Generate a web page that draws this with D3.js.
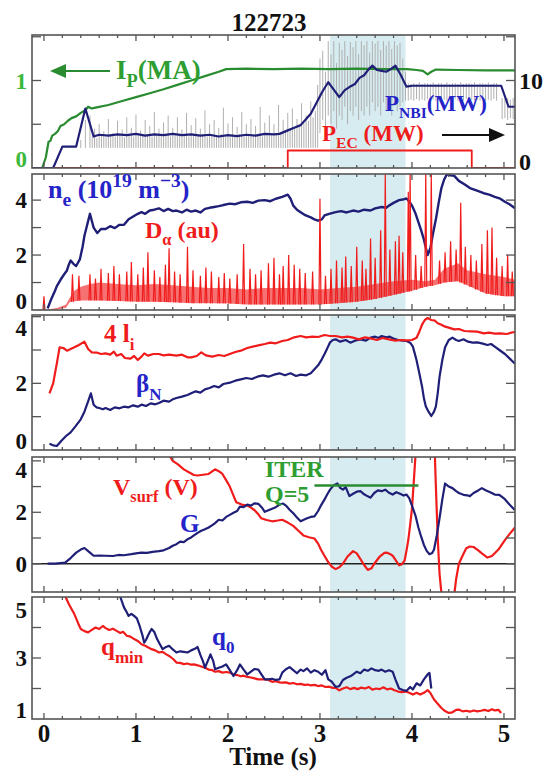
<!DOCTYPE html>
<html>
<head>
<meta charset="utf-8">
<script src="https://cdn.jsdelivr.net/npm/d3@7"></script>
<style>
  body { margin: 0; background: #fff; }
  svg { display: block; }
  text { font-family: "Liberation Serif", "Times New Roman", serif; font-weight: bold; }
</style>
</head>
<body>
<div id="chart"></div>
<script>
const W = 555, H = 773;

// ---- data ----
const shot = "122723";
const highlight = [3.11, 3.93];
const timeTicks = [0, 1, 2, 3, 4, 5];

// panel 1: plasma current (MA) and heating power (MW)
const ipData = [[-0.13,0],[-0.02,0],[0.02,0.12],[0.05,0.3],[0.07,0.31],[0.09,0.37],[0.12,0.39],[0.15,0.42],[0.18,0.48],[0.22,0.5],[0.26,0.54],[0.3,0.57],[0.35,0.59],[0.4,0.63],[0.45,0.66],[0.48,0.7],[0.52,0.68],[0.56,0.69],[0.7,0.72],[0.85,0.765],[1.0,0.81],[1.15,0.855],[1.3,0.9],[1.45,0.95],[1.6,1.0],[1.75,1.05],[1.9,1.1],[1.98,1.13],[2.2,1.135],[2.5,1.13],[2.8,1.135],[3.1,1.13],[3.4,1.135],[3.7,1.13],[3.95,1.13],[4.05,1.12],[4.12,1.11],[4.17,1.07],[4.21,1.1],[4.26,1.125],[4.5,1.12],[4.8,1.115],[5.12,1.115]];
const pnbiData = [[-0.13,0],[0.1,0],[0.2,2.45],[0.35,2.45],[0.45,6.8],[0.54,3.6],[0.6,3.8],[0.7,3.7],[0.8,3.85],[0.9,3.75],[1.0,3.9],[1.1,3.7],[1.2,3.85],[1.3,3.75],[1.4,3.9],[1.5,3.75],[1.6,3.85],[1.7,3.7],[1.8,3.8],[1.9,3.6],[2.0,3.75],[2.1,3.65],[2.2,3.8],[2.3,3.7],[2.4,3.9],[2.5,3.85],[2.56,3.9],[2.65,4.3],[2.72,4.6],[2.79,4.9],[2.85,5.6],[2.9,6.2],[2.97,7.6],[3.03,8.8],[3.09,9.8],[3.14,9.1],[3.21,8.1],[3.27,8.9],[3.32,9.25],[3.38,9.6],[3.43,10.3],[3.48,10.6],[3.53,11.3],[3.57,11.7],[3.62,11.2],[3.67,11.1],[3.72,11.0],[3.77,11.3],[3.82,11.7],[3.87,10.8],[3.94,9.3],[4.0,9.4],[4.5,9.4],[4.97,9.4],[5.05,7.0],[5.12,7.0]];
const pecData = [[-0.13,0],[2.65,0],[2.65,2.0],[4.65,2.0],[4.65,0],[5.12,0]];
// raw modulated beam power: [t, low, high] (MW)
const nbiGray = [[0.40,2.3,3.2],[0.45,2.3,5.5],[0.50,2.3,6.0],[0.525,2.3,3.6],[0.55,2.3,4.5],[0.575,2.3,3.4],[0.60,2.3,5.0],[0.625,2.3,3.8],[0.65,2.3,4.2],[0.675,2.3,3.5],[0.70,2.3,5.6],[0.725,2.3,3.9],[0.75,2.3,4.0],[0.775,2.3,3.6],[0.80,2.3,5.4],[0.825,2.3,3.7],[0.85,2.3,4.4],[0.875,2.3,3.5],[0.90,2.3,5.8],[0.925,2.3,3.9],[0.95,2.3,4.6],[0.975,2.3,3.6],[1.00,2.3,6.1],[1.025,2.3,3.8],[1.05,2.3,4.3],[1.075,2.3,3.7],[1.10,2.3,5.5],[1.125,2.3,3.9],[1.15,2.3,4.8],[1.175,2.3,3.6],[1.20,2.3,6.4],[1.225,2.3,3.8],[1.25,2.3,4.5],[1.275,2.3,3.7],[1.30,2.3,5.2],[1.325,2.3,3.9],[1.35,2.3,6.0],[1.375,2.3,3.6],[1.40,2.3,4.6],[1.425,2.3,3.8],[1.45,2.3,5.8],[1.475,2.3,3.7],[1.50,2.3,4.4],[1.525,2.3,3.9],[1.55,2.3,6.3],[1.575,2.3,3.6],[1.60,2.3,4.9],[1.625,2.3,3.8],[1.65,2.3,5.7],[1.675,2.3,3.7],[1.70,2.3,4.5],[1.725,2.3,3.9],[1.75,2.3,6.6],[1.775,2.3,3.6],[1.80,2.3,5.0],[1.825,2.3,3.8],[1.85,2.3,5.5],[1.875,2.3,3.7],[1.90,2.3,4.6],[1.925,2.3,3.9],[1.95,2.3,6.9],[1.975,2.3,3.6],[2.00,2.3,5.1],[2.025,2.3,3.8],[2.05,2.3,5.8],[2.075,2.3,3.7],[2.10,2.3,4.7],[2.125,2.3,3.9],[2.15,2.3,6.4],[2.175,2.3,3.6],[2.20,2.3,5.0],[2.225,2.3,3.8],[2.25,2.3,5.6],[2.275,2.3,3.7],[2.30,2.3,4.8],[2.325,2.3,3.9],[2.35,2.3,7.0],[2.375,2.3,3.6],[2.40,2.3,5.2],[2.425,2.3,3.8],[2.45,2.3,6.0],[2.475,2.3,3.9],[2.50,2.3,5.0],[2.525,2.3,4.0],[2.55,2.3,7.2],[2.575,2.3,4.1],[2.60,2.3,5.5],[2.625,2.3,4.3],[2.65,2.3,6.3],[2.675,2.3,4.4],[2.70,2.3,6.8],[2.725,2.3,4.6],[2.75,2.3,5.6],[2.775,2.3,4.9],[2.80,2.3,7.4],[2.825,2.3,5.2],[2.85,2.3,6.0],[2.875,2.3,5.4],[2.90,2.3,7.6],[2.925,2.3,5.8],[2.95,2.3,6.5],[2.975,2.3,9.5],
  [3.00,4.0,12.5],[3.03,5.5,13.4],[3.06,3.5,11.0],[3.09,6.0,14.5],[3.12,5.0,13.0],[3.15,6.5,14.5],[3.18,4.5,12.0],[3.21,6.0,14.3],[3.24,5.5,13.5],[3.27,7.0,14.5],[3.30,5.0,12.8],[3.33,6.5,14.4],[3.36,6.0,13.8],[3.39,7.0,14.5],[3.42,5.5,13.0],[3.45,6.5,14.5],[3.48,6.0,14.0],[3.51,7.0,14.5],[3.54,6.0,13.2],[3.57,7.5,14.5],[3.60,6.5,14.2],[3.63,7.0,14.5],[3.66,6.0,13.5],[3.69,7.5,14.5],[3.72,6.5,14.0],[3.75,7.0,14.5],[3.78,6.0,13.6],[3.81,7.5,14.5],[3.84,6.5,14.0],[3.87,7.0,14.3],[3.90,7.5,12.5],[3.93,7.7,11.0],
  [3.96,7.7,9.7],[3.99,7.8,9.6],[4.02,7.7,9.7],[4.05,7.9,9.6],[4.08,7.7,9.8],[4.11,7.8,9.6],[4.14,7.7,9.7],[4.17,7.9,9.7],[4.20,7.7,9.6],[4.23,7.8,9.8],[4.26,7.7,9.6],[4.29,7.9,9.7],[4.32,7.7,9.7],[4.35,7.8,9.6],[4.38,7.7,9.8],[4.41,7.8,9.6],[4.44,7.7,9.7],[4.47,7.9,9.7],[4.50,7.7,9.6],[4.53,7.8,9.8],[4.56,7.7,9.6],[4.59,7.9,9.7],[4.62,7.7,9.7],[4.65,7.8,9.6],[4.68,7.7,9.8],[4.71,7.8,9.6],[4.74,7.7,9.7],[4.77,7.9,9.7],[4.80,7.7,9.6],[4.83,7.8,9.8],[4.86,7.7,9.6],[4.89,7.9,9.7],[4.92,7.7,9.7],
  [4.98,5.6,8.0],[5.01,5.7,7.9],[5.04,5.5,8.0],[5.07,5.7,7.8],[5.10,5.6,8.0]];

// panel 2: density (1e19 m^-3) and D-alpha (au)
const neData = [[0.04,0.06],[0.08,0.4],[0.12,0.7],[0.14,0.87],[0.18,1.1],[0.22,1.3],[0.25,1.44],[0.27,1.65],[0.29,1.8],[0.32,1.68],[0.35,1.6],[0.37,1.72],[0.39,1.84],[0.42,2.3],[0.44,2.7],[0.47,3.1],[0.5,3.5],[0.52,3.25],[0.54,3.0],[0.56,2.9],[0.58,2.8],[0.62,2.95],[0.67,2.95],[0.72,3.05],[0.77,2.98],[0.82,3.1],[0.87,3.1],[0.92,3.3],[0.97,3.4],[1.02,3.5],[1.06,3.56],[1.1,3.5],[1.15,3.62],[1.2,3.65],[1.25,3.7],[1.3,3.6],[1.35,3.68],[1.4,3.6],[1.44,3.62],[1.5,3.55],[1.55,3.65],[1.6,3.58],[1.65,3.62],[1.7,3.55],[1.75,3.68],[1.8,3.72],[1.85,3.75],[1.9,3.78],[1.95,3.82],[2.02,3.87],[2.08,3.85],[2.14,3.92],[2.21,3.94],[2.27,3.9],[2.33,3.98],[2.4,4.0],[2.46,3.96],[2.52,4.05],[2.59,4.12],[2.65,4.2],[2.68,4.05],[2.71,3.8],[2.75,3.65],[2.79,3.56],[2.84,3.45],[2.9,3.37],[2.94,3.3],[2.98,3.25],[3.02,3.3],[3.05,3.44],[3.1,3.5],[3.17,3.56],[3.23,3.6],[3.29,3.55],[3.36,3.62],[3.42,3.58],[3.48,3.65],[3.55,3.62],[3.6,3.7],[3.67,3.75],[3.72,3.72],[3.75,3.8],[3.8,3.9],[3.86,4.0],[3.9,4.02],[3.94,4.06],[3.97,3.95],[4.0,3.8],[4.04,3.5],[4.07,3.2],[4.1,2.9],[4.13,2.56],[4.17,2.0],[4.2,2.25],[4.23,2.8],[4.26,3.3],[4.29,3.9],[4.32,4.44],[4.35,4.75],[4.38,4.94],[4.42,4.9],[4.46,4.88],[4.51,4.7],[4.57,4.58],[4.63,4.44],[4.7,4.35],[4.78,4.25],[4.84,4.2],[4.9,4.12],[4.96,4.05],[5.01,3.94],[5.06,3.85],[5.12,3.7]];
// D-alpha noise band: [t, low, high]
const dalphaBand = [[-0.13,0,0.01],[0.05,0,0.02],[0.15,0.02,0.08],[0.24,0.08,0.2],[0.28,0.28,0.45],[0.33,0.32,0.7],[0.4,0.35,0.85],[0.5,0.35,0.95],[0.6,0.35,1.0],[0.8,0.33,0.95],[1.0,0.3,0.9],[1.2,0.3,0.95],[1.4,0.28,0.9],[1.6,0.25,0.85],[1.8,0.25,0.8],[2.0,0.24,0.8],[2.2,0.2,0.75],[2.4,0.2,0.8],[2.6,0.2,0.8],[2.8,0.2,0.8],[3.0,0.2,0.75],[3.2,0.25,0.8],[3.4,0.3,0.85],[3.6,0.4,0.95],[3.8,0.55,1.05],[4.0,0.7,1.1],[4.15,0.85,1.05],[4.25,0.9,1.1],[4.35,1.0,1.5],[4.5,1.05,1.7],[4.6,0.9,1.45],[4.8,0.6,1.3],[5.0,0.5,1.2],[5.12,0.5,1.1]];
// D-alpha ELM spikes: [t, peak]
const dalphaSpikes = [[0.0,0.5],[0.31,1.3],[0.38,1.25],[0.5,1.3],[0.56,1.15],[0.62,1.5],[0.7,1.35],[0.76,1.6],[0.82,1.3],[0.9,1.4],[0.95,1.75],[1.02,1.3],[1.08,1.55],[1.13,2.1],[1.2,1.45],[1.26,1.2],[1.32,1.65],[1.36,2.25],[1.42,1.4],[1.48,1.3],[1.56,2.3],[1.62,1.45],[1.7,1.25],[1.76,1.55],[1.82,1.4],[1.9,1.2],[1.96,1.35],[2.02,1.15],[2.1,1.3],[2.17,2.4],[2.24,1.5],[2.3,1.3],[2.36,1.45],[2.44,1.7],[2.5,1.9],[2.56,1.3],[2.6,1.6],[2.66,2.0],[2.72,1.65],[2.78,1.5],[2.84,1.35],[2.92,1.4],[3.0,4.05],[3.06,1.25],[3.12,1.5],[3.18,1.8],[3.24,1.55],[3.28,1.95],[3.34,1.6],[3.4,2.3],[3.46,1.8],[3.5,1.5],[3.55,2.6],[3.6,1.9],[3.66,2.9],[3.71,5.0],[3.76,2.2],[3.82,2.5],[3.86,2.7],[3.9,2.1],[3.96,4.3],[3.98,5.0],[4.04,2.0],[4.1,1.6],[4.15,5.0],[4.21,5.0],[4.3,1.8],[4.36,2.1],[4.42,2.5],[4.48,2.2],[4.53,3.9],[4.58,2.3],[4.64,2.0],[4.7,1.8],[4.76,2.4],[4.82,2.9],[4.87,3.0],[4.92,1.9],[4.98,1.6],[5.04,2.0],[5.09,1.4]];

// panel 3: 4*li and beta_N
const liData = [[0.06,1.7],[0.1,2.0],[0.14,2.6],[0.17,3.08],[0.21,3.06],[0.25,2.98],[0.29,3.03],[0.33,3.08],[0.38,3.15],[0.44,3.25],[0.48,3.03],[0.52,2.93],[0.58,2.92],[0.62,2.88],[0.67,2.9],[0.72,2.86],[0.76,2.95],[0.79,2.83],[0.84,2.88],[0.88,2.76],[0.94,2.74],[0.98,2.82],[1.02,2.7],[1.06,2.8],[1.09,2.9],[1.13,2.83],[1.19,2.88],[1.25,2.88],[1.3,2.84],[1.36,2.86],[1.44,2.83],[1.5,2.86],[1.56,2.78],[1.6,2.78],[1.66,2.82],[1.71,2.93],[1.76,2.84],[1.83,2.8],[1.9,2.85],[1.96,2.82],[2.02,2.88],[2.08,2.94],[2.14,2.98],[2.21,3.06],[2.27,3.1],[2.33,3.14],[2.4,3.18],[2.46,3.22],[2.52,3.2],[2.59,3.27],[2.65,3.3],[2.72,3.38],[2.79,3.42],[2.85,3.38],[2.92,3.4],[2.98,3.39],[3.05,3.45],[3.11,3.42],[3.17,3.42],[3.24,3.38],[3.3,3.4],[3.36,3.37],[3.42,3.32],[3.49,3.38],[3.55,3.35],[3.62,3.3],[3.68,3.36],[3.75,3.32],[3.82,3.28],[3.88,3.3],[3.94,3.29],[4.0,3.3],[4.05,3.37],[4.08,3.55],[4.11,3.76],[4.14,3.9],[4.17,3.96],[4.21,3.9],[4.25,3.88],[4.28,3.8],[4.32,3.76],[4.36,3.7],[4.4,3.67],[4.46,3.62],[4.51,3.63],[4.57,3.57],[4.64,3.56],[4.71,3.55],[4.78,3.5],[4.84,3.52],[4.9,3.49],[4.96,3.5],[5.03,3.48],[5.08,3.52],[5.12,3.54]];
const betaData = [[0.06,0.19],[0.1,0.14],[0.14,0.12],[0.19,0.28],[0.24,0.42],[0.29,0.53],[0.34,0.7],[0.4,0.92],[0.44,1.15],[0.48,1.46],[0.51,1.7],[0.54,1.36],[0.57,1.28],[0.6,1.26],[0.64,1.22],[0.67,1.26],[0.72,1.2],[0.77,1.28],[0.82,1.25],[0.87,1.3],[0.92,1.28],[0.97,1.34],[1.02,1.3],[1.06,1.36],[1.11,1.32],[1.16,1.4],[1.21,1.37],[1.25,1.41],[1.3,1.48],[1.36,1.45],[1.4,1.52],[1.44,1.56],[1.5,1.6],[1.56,1.65],[1.6,1.7],[1.65,1.76],[1.7,1.72],[1.75,1.82],[1.8,1.86],[1.85,1.92],[1.9,1.88],[1.95,1.98],[2.02,2.02],[2.08,2.08],[2.14,2.12],[2.2,2.16],[2.26,2.13],[2.32,2.2],[2.38,2.24],[2.44,2.2],[2.5,2.26],[2.56,2.3],[2.62,2.24],[2.68,2.3],[2.74,2.22],[2.79,2.26],[2.85,2.24],[2.9,2.3],[2.95,2.45],[2.98,2.54],[3.02,2.72],[3.05,2.88],[3.08,3.05],[3.11,3.23],[3.14,3.3],[3.17,3.32],[3.22,3.25],[3.28,3.3],[3.33,3.22],[3.38,3.28],[3.44,3.32],[3.5,3.28],[3.55,3.37],[3.6,3.4],[3.64,3.36],[3.67,3.42],[3.72,3.38],[3.76,3.4],[3.8,3.34],[3.85,3.3],[3.9,3.28],[3.94,3.27],[3.98,3.22],[4.01,3.1],[4.03,2.9],[4.05,2.69],[4.08,2.3],[4.11,1.9],[4.13,1.55],[4.15,1.31],[4.18,1.15],[4.21,1.02],[4.24,1.15],[4.26,1.31],[4.28,1.7],[4.3,2.2],[4.33,2.7],[4.36,3.08],[4.4,3.3],[4.44,3.37],[4.48,3.3],[4.51,3.27],[4.56,3.32],[4.61,3.25],[4.66,3.22],[4.71,3.23],[4.76,3.2],[4.82,3.15],[4.86,3.18],[4.9,3.1],[4.95,3.0],[5.01,2.88],[5.06,2.75],[5.12,2.59]];

// panel 4: surface loop voltage (V) and G
const vsurfData = [[1.3,4.6],[1.4,4.0],[1.46,3.85],[1.52,3.67],[1.58,3.55],[1.63,3.45],[1.67,3.43],[1.73,3.46],[1.79,3.49],[1.86,3.67],[1.9,3.6],[1.94,3.49],[1.98,3.25],[2.02,3.0],[2.06,2.65],[2.09,2.39],[2.15,2.3],[2.21,2.26],[2.25,2.18],[2.29,2.08],[2.33,1.92],[2.36,1.77],[2.42,1.7],[2.48,1.65],[2.54,1.68],[2.59,1.71],[2.65,1.6],[2.71,1.47],[2.76,1.3],[2.82,1.1],[2.88,1.03],[2.94,0.98],[2.98,0.78],[3.01,0.55],[3.05,0.3],[3.09,0.06],[3.13,-0.12],[3.17,-0.21],[3.21,-0.14],[3.25,0.0],[3.3,0.28],[3.36,0.49],[3.4,0.4],[3.44,0.18],[3.48,-0.05],[3.52,-0.24],[3.56,-0.18],[3.59,0.0],[3.65,0.28],[3.7,0.42],[3.73,0.43],[3.76,0.38],[3.79,0.31],[3.83,0.1],[3.86,-0.06],[3.89,-0.02],[3.92,0.12],[3.94,0.5],[3.96,0.92],[3.98,1.5],[4.0,2.14],[4.02,3.2],[4.04,4.3],[4.06,5.2],[4.24,5.2],[4.26,3.0],[4.28,1.0],[4.3,-0.4],[4.33,-1.5],[4.45,-1.5],[4.48,-0.6],[4.51,0.0],[4.55,0.31],[4.59,0.6],[4.63,0.67],[4.67,0.65],[4.71,0.55],[4.76,0.4],[4.82,0.24],[4.87,0.3],[4.94,0.55],[5.01,0.92],[5.06,1.15],[5.12,1.41]];
const gData = [[0.04,0.0],[0.12,0.0],[0.18,0.02],[0.23,0.04],[0.29,0.22],[0.35,0.43],[0.4,0.55],[0.44,0.61],[0.49,0.46],[0.54,0.31],[0.6,0.32],[0.67,0.31],[0.75,0.3],[0.81,0.34],[0.87,0.33],[0.95,0.37],[1.0,0.4],[1.06,0.43],[1.12,0.42],[1.18,0.46],[1.25,0.49],[1.3,0.52],[1.36,0.61],[1.4,0.7],[1.44,0.76],[1.48,0.86],[1.52,0.84],[1.56,0.95],[1.6,1.02],[1.63,1.1],[1.67,1.2],[1.71,1.28],[1.75,1.34],[1.79,1.41],[1.83,1.5],[1.86,1.58],[1.9,1.71],[1.94,1.68],[1.98,1.82],[2.02,1.9],[2.06,1.98],[2.1,2.05],[2.13,2.22],[2.17,2.2],[2.21,2.3],[2.25,2.26],[2.29,2.35],[2.33,2.33],[2.37,2.18],[2.4,2.02],[2.44,2.08],[2.48,2.14],[2.52,2.2],[2.56,2.3],[2.6,2.34],[2.63,2.26],[2.67,2.1],[2.71,1.96],[2.75,1.8],[2.79,1.65],[2.83,1.72],[2.86,1.77],[2.9,1.82],[2.94,1.84],[2.98,2.05],[3.01,2.26],[3.05,2.5],[3.08,2.7],[3.11,2.88],[3.15,3.05],[3.19,3.12],[3.22,2.95],[3.25,2.88],[3.28,2.98],[3.32,2.63],[3.36,2.72],[3.4,2.8],[3.44,2.82],[3.48,2.7],[3.52,2.62],[3.55,2.57],[3.59,2.75],[3.63,2.85],[3.67,2.82],[3.71,2.88],[3.75,2.76],[3.79,2.69],[3.83,2.78],[3.87,2.72],[3.91,2.65],[3.94,2.69],[3.97,2.55],[4.0,2.26],[4.04,1.85],[4.07,1.41],[4.1,1.05],[4.13,0.73],[4.16,0.5],[4.19,0.37],[4.22,0.42],[4.24,0.55],[4.27,1.1],[4.3,1.77],[4.33,2.5],[4.36,3.12],[4.4,3.0],[4.44,2.94],[4.48,2.82],[4.51,2.75],[4.56,2.68],[4.6,2.66],[4.63,2.63],[4.67,2.75],[4.72,2.85],[4.76,2.94],[4.8,2.86],[4.85,2.78],[4.9,2.69],[4.95,2.68],[5.01,2.51],[5.06,2.3],[5.12,2.08]];
const iterQ5 = [[2.94,3.04],[4.07,3.04]];

// panel 5: safety factor
const qminData = [[0.22,5.1],[0.27,4.77],[0.33,4.44],[0.37,4.15],[0.4,3.95],[0.44,3.88],[0.48,3.84],[0.52,3.92],[0.56,4.0],[0.6,3.95],[0.64,4.05],[0.67,3.98],[0.71,3.92],[0.75,3.96],[0.79,3.89],[0.83,3.82],[0.86,3.86],[0.9,3.73],[0.94,3.7],[0.98,3.62],[1.02,3.56],[1.06,3.45],[1.1,3.4],[1.13,3.35],[1.17,3.29],[1.21,3.25],[1.25,3.18],[1.29,3.2],[1.33,3.12],[1.37,3.05],[1.41,2.95],[1.44,2.85],[1.48,2.84],[1.52,2.8],[1.56,2.82],[1.6,2.78],[1.63,2.79],[1.67,2.76],[1.71,2.72],[1.75,2.68],[1.79,2.62],[1.83,2.6],[1.86,2.55],[1.9,2.57],[1.94,2.52],[1.98,2.54],[2.02,2.52],[2.06,2.46],[2.1,2.44],[2.14,2.4],[2.17,2.42],[2.21,2.38],[2.25,2.36],[2.29,2.33],[2.33,2.3],[2.37,2.3],[2.4,2.3],[2.44,2.28],[2.48,2.22],[2.52,2.24],[2.56,2.2],[2.59,2.19],[2.63,2.2],[2.67,2.16],[2.71,2.18],[2.75,2.14],[2.79,2.15],[2.83,2.12],[2.87,2.13],[2.9,2.1],[2.94,2.12],[2.98,2.08],[3.02,2.1],[3.06,2.05],[3.1,2.06],[3.14,2.02],[3.17,2.02],[3.21,1.94],[3.25,2.0],[3.29,2.04],[3.33,1.98],[3.37,2.02],[3.41,1.98],[3.45,2.03],[3.49,2.0],[3.53,2.05],[3.57,1.96],[3.61,2.0],[3.65,1.98],[3.69,2.04],[3.73,1.97],[3.77,2.0],[3.81,1.94],[3.85,1.9],[3.89,1.88],[3.93,1.9],[3.97,1.86],[4.01,1.8],[4.05,1.86],[4.09,1.8],[4.13,1.86],[4.17,1.95],[4.2,1.85],[4.24,1.64],[4.28,1.5],[4.32,1.36],[4.36,1.26],[4.4,1.2],[4.44,1.22],[4.48,1.3],[4.51,1.31],[4.55,1.25],[4.59,1.27],[4.63,1.24],[4.67,1.28],[4.71,1.25],[4.75,1.27],[4.79,1.3],[4.83,1.26],[4.87,1.32],[4.9,1.28],[4.94,1.3],[4.97,1.2]];
const q0Data = [[0.79,5.3],[0.83,5.0],[0.87,4.66],[0.9,4.5],[0.92,4.38],[0.95,4.45],[0.98,4.38],[1.01,4.3],[1.04,4.05],[1.07,3.75],[1.09,3.5],[1.11,3.6],[1.13,3.73],[1.15,3.85],[1.17,3.95],[1.2,3.85],[1.23,3.62],[1.26,3.45],[1.29,3.29],[1.32,3.35],[1.36,3.4],[1.4,3.28],[1.44,3.18],[1.48,3.22],[1.52,3.2],[1.56,3.18],[1.6,3.25],[1.64,3.3],[1.67,3.36],[1.7,3.1],[1.73,2.88],[1.75,2.68],[1.78,2.9],[1.81,3.12],[1.84,2.9],[1.86,2.63],[1.9,2.68],[1.94,2.72],[1.98,2.79],[2.02,2.6],[2.06,2.41],[2.1,2.6],[2.13,2.79],[2.17,2.62],[2.21,2.46],[2.25,2.55],[2.29,2.64],[2.33,2.62],[2.36,2.48],[2.4,2.3],[2.44,2.3],[2.48,2.32],[2.52,2.28],[2.56,2.3],[2.59,2.52],[2.63,2.63],[2.67,2.7],[2.71,2.6],[2.75,2.5],[2.79,2.62],[2.82,2.57],[2.86,2.66],[2.9,2.52],[2.94,2.6],[2.98,2.55],[3.02,2.45],[3.06,2.6],[3.09,2.3],[3.13,2.22],[3.17,2.05],[3.21,2.08],[3.25,2.28],[3.29,2.35],[3.33,2.4],[3.36,2.46],[3.4,2.55],[3.44,2.5],[3.48,2.62],[3.52,2.58],[3.56,2.66],[3.6,2.6],[3.64,2.58],[3.67,2.62],[3.71,2.55],[3.75,2.6],[3.79,2.55],[3.82,2.3],[3.86,2.0],[3.9,1.95],[3.94,1.92],[3.98,2.05],[4.01,1.97],[4.05,2.17],[4.09,2.1],[4.13,2.3],[4.17,2.46],[4.19,2.51],[4.21,2.0]];

// tick labels
const p1LeftLabels = [0, 1];
const p1RightLabels = [0, 10];
const p2Labels = [0, 2, 4];
const p3Labels = [0, 2, 4];
const p4Labels = [0, 2, 4];
const p5Labels = [1, 3, 5];

// ---- colours ----
const NAVY = "#1f1f78", BLUE = "#2424c8", RED = "#f01c1c", GREEN = "#2a8c30",
      GREEN_TXT = "#2e9e32", GREEN_TICK = "#3cb83c", GRAY = "#b0b0b0", SHADE = "#d6ecf0";

const svg = d3.select("#chart").append("svg").attr("width", W).attr("height", H);

const x = d3.scaleLinear().domain([-0.13, 5.12]).range([32, 515]);

const panels = [
  { top: 35,  bottom: 168, domain: [0, 1.52],   ticks: [0.5, 1, 1.5] },
  { top: 174, bottom: 310, domain: [0, 4.95],   ticks: [1, 2, 3, 4] },
  { top: 315, bottom: 450, domain: [0, 4.05],   ticks: [1, 2, 3, 4] },
  { top: 457, bottom: 592, domain: [-1.1, 4.15], ticks: [0, 1, 2, 3, 4] },
  { top: 597, bottom: 719, domain: [1, 5],      ticks: [2, 3, 4] }
];

panels.forEach((p, i) => {
  p.y = d3.scaleLinear().domain(p.domain).range([p.bottom, p.top]);
  svg.append("clipPath").attr("id", "clip" + i)
    .append("rect").attr("x", x.range()[0]).attr("y", p.top)
    .attr("width", x.range()[1] - x.range()[0]).attr("height", p.bottom - p.top);
  p.g = svg.append("g").attr("clip-path", `url(#clip${i})`);
  p.g.append("rect")
    .attr("x", x(highlight[0])).attr("width", x(highlight[1]) - x(highlight[0]))
    .attr("y", p.top).attr("height", p.bottom - p.top)
    .attr("fill", SHADE);
});

function drawLine(p, data, color, width, scale = 1) {
  p.g.append("path")
    .datum(data)
    .attr("fill", "none")
    .attr("stroke", color)
    .attr("stroke-width", width)
    .attr("stroke-linejoin", "round")
    .attr("d", d3.line().x(d => x(d[0])).y(d => p.y(d[1] / scale)));
}

// panel 1
{
  const p = panels[0];
  p.g.selectAll(".nbi").data(nbiGray).join("line")
    .attr("x1", d => x(d[0])).attr("x2", d => x(d[0]))
    .attr("y1", d => p.y(d[1] / 10)).attr("y2", d => p.y(d[2] / 10))
    .attr("stroke", GRAY).attr("stroke-width", 1);
  drawLine(p, pecData, RED, 1.8, 10);
  drawLine(p, ipData, GREEN, 2.2);
  drawLine(p, pnbiData, NAVY, 2.2, 10);
}

// panel 2
{
  const p = panels[1];
  drawLine(p, neData, NAVY, 2.4);
  p.g.append("path").datum(dalphaBand)
    .attr("fill", RED).attr("fill-opacity", 0.62)
    .attr("d", d3.area().x(d => x(d[0])).y0(d => p.y(d[1])).y1(d => p.y(d[2])));
  const lowAt = d3.scaleLinear().domain(dalphaBand.map(d => d[0])).range(dalphaBand.map(d => d[1])).clamp(true);
  p.g.selectAll(".spike").data(dalphaSpikes).join("path")
    .attr("fill", "none").attr("stroke", RED).attr("stroke-width", 1.2)
    .attr("d", d => `M${x(d[0]) - 1},${p.y(lowAt(d[0]))}L${x(d[0])},${p.y(d[1])}L${x(d[0]) + 1},${p.y(lowAt(d[0]))}`);
}

// panel 3
{
  const p = panels[2];
  drawLine(p, betaData, NAVY, 2.2);
  drawLine(p, liData, RED, 2.2);
}

// panel 4
{
  const p = panels[3];
  p.g.append("line").attr("x1", x.range()[0]).attr("x2", x.range()[1])
    .attr("y1", p.y(0)).attr("y2", p.y(0)).attr("stroke", "#222").attr("stroke-width", 1.5);
  drawLine(p, vsurfData, RED, 2.2);
  drawLine(p, gData, NAVY, 2.2);
  drawLine(p, iterQ5, GREEN, 2.4);
}

// panel 5
{
  const p = panels[4];
  drawLine(p, qminData, RED, 2.2);
  drawLine(p, q0Data, NAVY, 2.2);
}

// frames and ticks
const minorT = d3.range(0, 5.11, 0.2);
panels.forEach(p => {
  const g = svg.append("g").attr("stroke", "#555").attr("stroke-width", 1.3);
  p.ticks.forEach(v => {
    g.append("line").attr("x1", 32).attr("x2", 41).attr("y1", p.y(v)).attr("y2", p.y(v));
    g.append("line").attr("x1", 515).attr("x2", 506).attr("y1", p.y(v)).attr("y2", p.y(v));
  });
  minorT.forEach(t => {
    const len = Math.abs(t - Math.round(t)) < 1e-6 ? 6 : 3;
    g.append("line").attr("x1", x(t)).attr("x2", x(t)).attr("y1", p.top).attr("y2", p.top + len);
    g.append("line").attr("x1", x(t)).attr("x2", x(t)).attr("y1", p.bottom).attr("y2", p.bottom - len);
  });
  g.append("rect").attr("x", 32).attr("y", p.top).attr("width", 515 - 32).attr("height", p.bottom - p.top)
    .attr("fill", "none").attr("stroke-width", 1.6);
});

// y tick labels: kept inside each panel's height so neighbours do not collide
function leftLabels(p, vals, color) {
  svg.append("g").selectAll("text").data(vals).join("text")
    .attr("x", 27).attr("y", v => Math.min(Math.max(p.y(v), p.top + 13), p.bottom - 9))
    .attr("dy", "0.35em").attr("text-anchor", "end")
    .attr("fill", color).style("font-size", "23px")
    .text(v => v);
}
leftLabels(panels[0], p1LeftLabels, GREEN_TICK);
leftLabels(panels[1], p2Labels, "#111");
leftLabels(panels[2], p3Labels, "#111");
leftLabels(panels[3], p4Labels, "#111");
leftLabels(panels[4], p5Labels, "#111");
svg.append("g").selectAll("text").data(p1RightLabels).join("text")
  .attr("x", 519).attr("y", v => Math.min(panels[0].y(v / 10), panels[0].bottom - 6)).attr("dy", "0.35em")
  .attr("fill", "#111").style("font-size", "24px").text(v => v);

// x tick labels
svg.append("g").selectAll("text").data(timeTicks).join("text")
  .attr("x", t => x(t)).attr("y", 742).attr("text-anchor", "middle")
  .attr("fill", "#111").style("font-size", "25px").text(t => t);
svg.append("text").attr("x", 273).attr("y", 765).attr("text-anchor", "middle")
  .attr("fill", "#111").style("font-size", "25px").text("Time (s)");
svg.append("text").attr("x", 269).attr("y", 31).attr("text-anchor", "middle")
  .attr("fill", "#111").style("font-size", "25px").text(shot);

// rich labels
function richText(px, py, parts, fill, size, ratio = 0.68) {
  const t = svg.append("text").attr("x", px).attr("y", py).attr("fill", fill).style("font-size", size + "px");
  let shift = 0;
  parts.forEach(([s, k]) => {
    const target = k === "sub" ? size * 0.3 : k === "sup" ? -size * 0.42 : 0;
    t.append("tspan").attr("dy", target - shift)
      .style("font-size", (k ? size * ratio : size) + "px").text(s);
    shift = target;
  });
}
richText(116, 79, [["I", ""], ["P", "sub"], ["(MA)", ""]], GREEN_TXT, 27);
richText(385, 111, [["P", ""], ["NBI", "sub"], ["(MW)", ""]], BLUE, 23);
richText(322, 141, [["P", ""], ["EC", "sub"], [" (MW)", ""]], RED, 23);
richText(48, 198, [["n", ""], ["e", "sub"], [" (10", ""], ["19", "sup"], [" m", ""], ["\u22123", "sup"], [")", ""]], BLUE, 26, 0.75);
richText(145, 238, [["D", ""], ["\u03b1", "sub"], [" (au)", ""]], RED, 24);
richText(104, 342, [["4 l", ""], ["i", "sub"]], RED, 25);
richText(136, 392, [["\u03b2", ""], ["N", "sub"]], BLUE, 25);
richText(113, 495, [["V", ""], ["surf", "sub"], [" (V)", ""]], RED, 24);
richText(180, 532, [["G", ""]], BLUE, 25);
richText(265, 477, [["ITER", ""]], GREEN_TXT, 24);
richText(265, 502, [["Q=5", ""]], GREEN_TXT, 24);
richText(212, 645, [["q", ""], ["0", "sub"]], BLUE, 25);
richText(101, 655, [["q", ""], ["min", "sub"]], RED, 25);

// arrows
function arrow(x1, x2, yy, color) {
  const dir = Math.sign(x2 - x1);
  svg.append("line").attr("x1", x1).attr("x2", x2 - dir * 10).attr("y1", yy).attr("y2", yy)
    .attr("stroke", color).attr("stroke-width", 2.2);
  svg.append("path")
    .attr("d", `M${x2},${yy}L${x2 - dir * 16},${yy - 7}L${x2 - dir * 16},${yy + 7}Z`)
    .attr("fill", color);
}
arrow(110, 50, 71, GREEN);
arrow(442, 505, 135, "#111");
</script>
</body>
</html>
